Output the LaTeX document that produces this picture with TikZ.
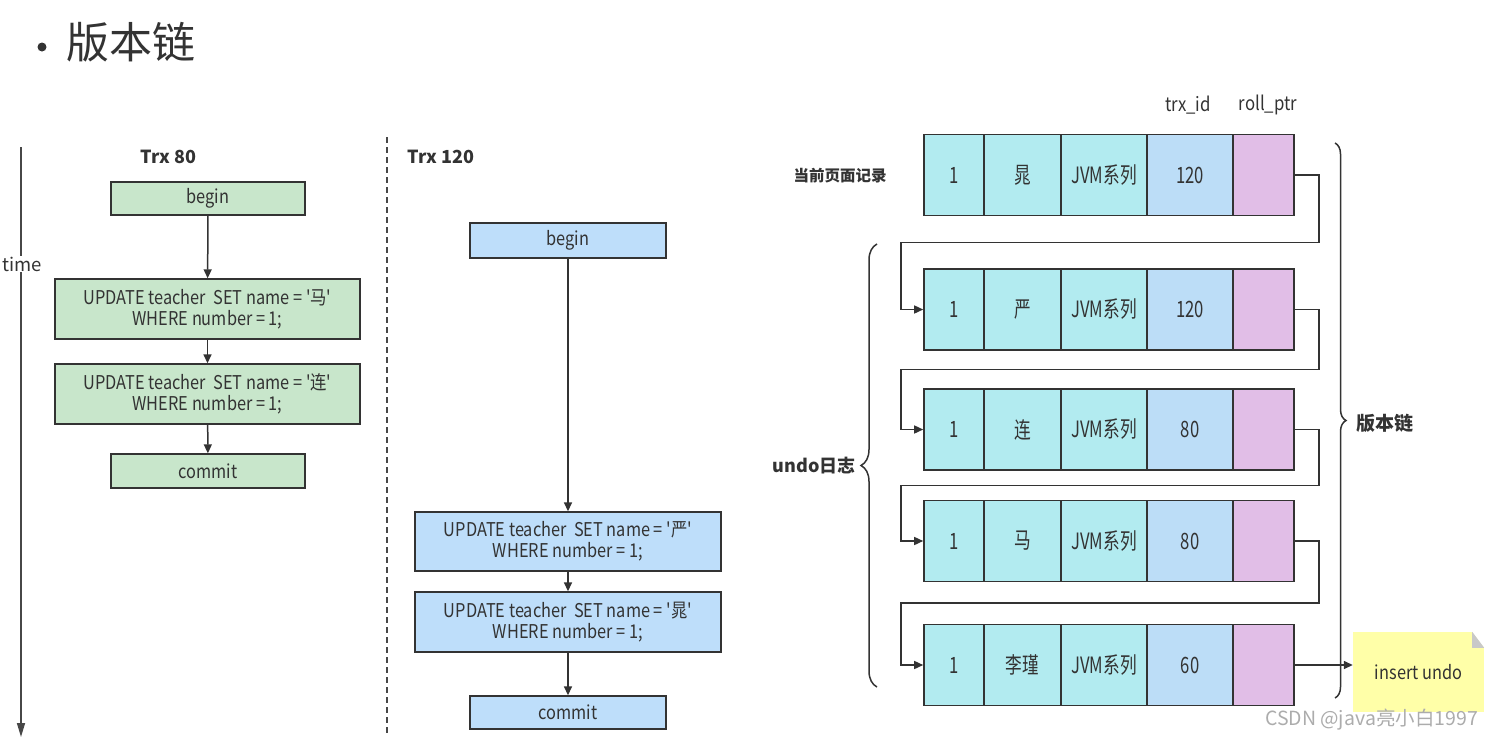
\documentclass[tikz,border=0pt]{standalone}
\usepackage{fontspec}
\setmainfont{Noto Sans CJK SC}[FakeStretch=0.86, Ligatures=TeXOff]
\newfontfamily\condf{Noto Sans CJK SC}[FakeStretch=0.74, Ligatures=TeXOff]
\newfontfamily\cjkw{Noto Sans CJK SC}[Ligatures=TeXOff]
\usetikzlibrary{arrows.meta,calc,decorations.pathreplacing}
\definecolor{bd}{HTML}{333333}
\definecolor{tx}{HTML}{333333}
\definecolor{gfill}{HTML}{C8E6CB}
\definecolor{bfill}{HTML}{BEDEFA}
\definecolor{cyfill}{HTML}{B2EBF0}
\definecolor{trxfill}{HTML}{BCDDF7}
\definecolor{ptrfill}{HTML}{E1BEE7}
\definecolor{noteyel}{HTML}{FFFFA8}
\definecolor{foldgray}{HTML}{C8C8C8}
\newcommand\recrow[4]{%
  \node[cyc, minimum width=60] (#1c1) at (954,#2) {1};
  \node[cyc, minimum width=77] (#1c2) at (1022.5,#2) {#3};
  \node[cyc, minimum width=86] (#1c3) at (1104,#2) {JVM系列};
  \node[trxc, minimum width=86] (#1c4) at (1190,#2) {#4};
  \node[ptrc, minimum width=61] (#1c5) at (1263.5,#2) {};
}
\begin{document}
\begin{tikzpicture}[x=1pt,y=-1pt,
  every node/.style={text=tx},
  gbox/.style={draw=bd, line width=1.4pt, fill=gfill, align=center, inner sep=0pt,
    font=\fontsize{19}{21}\selectfont},
  bbox/.style={gbox, fill=bfill},
  cellbase/.style={draw=bd, line width=1.6pt, minimum height=81, inner sep=0pt,
    font=\condf\fontsize{22.5}{25}\selectfont},
  cyc/.style={cellbase, fill=cyfill},
  trxc/.style={cellbase, fill=trxfill},
  ptrc/.style={cellbase, fill=ptrfill},
  arr/.style={draw=bd, line width=1.5pt, -{Triangle[length=9pt,width=8pt]}},
  hdr/.style={font=\cjkw\bfseries\fontsize{18}{21}\selectfont},
  brc/.style={draw=bd, line width=1.5pt, decorate},
]
\useasboundingbox (0,0) rectangle (1492,740);

% title
\fill[tx] (42,47) circle (4.5);
\node[anchor=west, inner sep=0pt, font=\cjkw\fontsize{43}{46}\selectfont] (title) at (66,42) {版本链};

% time axis
\coordinate (ttop) at (21,147);
\coordinate (tbot) at (21,737);
\draw[draw=bd!90, line width=1.6pt, -{Triangle[length=14pt,width=8pt]}] (ttop) -- (tbot);
\node[fill=white, inner sep=1pt, font=\cjkw\fontsize{18.5}{21}\selectfont] (time) at (22,264) {time};

% separator
\coordinate (dtop) at (387,137);
\coordinate (dbot) at (387,735);
\draw[draw=bd!90, line width=1.5pt, dash pattern=on 6pt off 4pt] (dtop) -- (dbot);

% Trx 80
\node[hdr, anchor=west] (t80) at (137,157) {Trx 80};
\node[gbox, minimum width=194, minimum height=33] (g1) at (208,198.5) {begin};
\node[gbox, minimum width=305, minimum height=60] (g2) at (207.5,309) {UPDATE teacher\ \ SET name = '马'\\WHERE number = 1;};
\node[gbox, minimum width=305, minimum height=60] (g3) at (207.5,394) {UPDATE teacher\ \ SET name = '连'\\WHERE number = 1;};
\node[gbox, minimum width=194, minimum height=34] (g4) at (208,471) {commit};
\draw[arr] (g1) -- (g2);
\draw[arr] (g2) -- (g3);
\draw[arr] (g3) -- (g4);

% Trx 120
\node[hdr, anchor=west] (t120) at (404,157) {Trx 120};
\node[bbox, minimum width=196, minimum height=35] (b1) at (568,240.5) {begin};
\node[bbox, minimum width=306, minimum height=59] (b2) at (568,541.5) {UPDATE teacher\ \ SET name = '严'\\WHERE number = 1;};
\node[bbox, minimum width=306, minimum height=60] (b3) at (568,622) {UPDATE teacher\ \ SET name = '晁'\\WHERE number = 1;};
\node[bbox, minimum width=196, minimum height=33] (b4) at (568,712.5) {commit};
\draw[arr] (b1) -- (b2);
\draw[arr] (b2) -- (b3);
\draw[arr] (b3) -- (b4);

% record table
\node[font=\fontsize{19.5}{22}\selectfont] (htrx) at (1188,105) {trx\_id};
\node[font=\fontsize{19.5}{22}\selectfont] (hptr) at (1268,105) {roll\_ptr};
\node[font=\cjkw\bfseries\fontsize{15.5}{19}\selectfont] (cur) at (840,176) {当前页面记录};

\recrow{r0}{175}{晁}{120}
\recrow{r1}{309.5}{严}{120}
\recrow{r2}{429.5}{连}{80}
\recrow{r3}{541}{马}{80}
\recrow{r4}{665}{李瑾}{60}

\draw[arr] (r0c5.east) -- ++(24,0) |- ($(r0c1.south west)!0.5!(r1c1.north west)+(-22,0)$) |- (r1c1.west);
\draw[arr] (r1c5.east) -- ++(24,0) |- ($(r1c1.south west)!0.5!(r2c1.north west)+(-22,0)$) |- (r2c1.west);
\draw[arr] (r2c5.east) -- ++(24,0) |- ($(r2c1.south west)!0.5!(r3c1.north west)+(-22,0)$) |- (r3c1.west);
\draw[arr] (r3c5.east) -- ++(24,0) |- ($(r3c1.south west)!0.5!(r4c1.north west)+(-22,0)$) |- (r4c1.west);

% braces
\coordinate (vb1) at (1335,143);
\coordinate (vb2) at (1335,698);
\draw[brc, decoration={brace, amplitude=11pt}] (vb1) -- (vb2);
\node[font=\cjkw\bfseries\fontsize{19}{22}\selectfont, anchor=west, inner sep=0pt] (vlabel) at (1356,423) {版本链};
\coordinate (ub1) at (877,687);
\coordinate (ub2) at (877,244);
\draw[brc, decoration={brace, amplitude=16pt}] (ub1) -- (ub2);
\node[font=\cjkw\bfseries\fontsize{18}{21}\selectfont, anchor=east, inner sep=0pt] (ulabel) at (856,466) {undo日志};

% insert undo note
\node[fill=noteyel, minimum width=131, minimum height=80, inner sep=0pt,
  font=\fontsize{19}{22}\selectfont] (note) at (1418.5,672) {insert undo};
\fill[white] (note.north east) -- ++(-12,0) -- ++(12,16) -- cycle;
\fill[foldgray] ($(note.north east)+(-12,0)$) -- ++(0,16) -- ++(12,0) -- cycle;
\draw[arr] (r4c5.east) -- (r4c5.east -| note.west);

% watermark
\node[anchor=east, inner sep=0pt, text=gray!65, font=\cjkw\fontsize{19.5}{22}\selectfont] (wm) at (1478,720) {CSDN @java亮小白1997};
\end{tikzpicture}
\end{document}
